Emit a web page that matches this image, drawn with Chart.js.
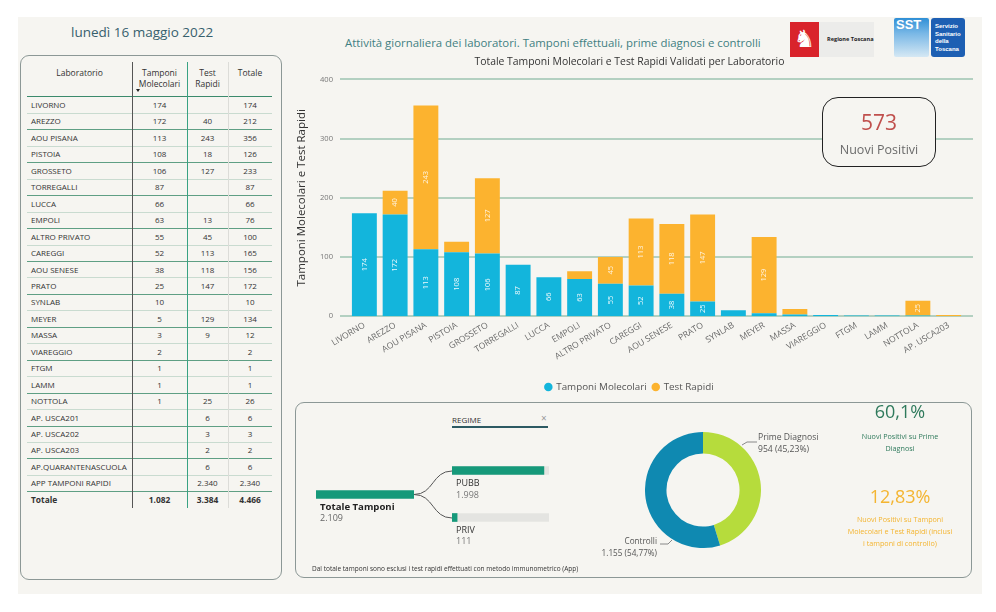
<!DOCTYPE html>
<html lang="it">
<head>
<meta charset="utf-8">
<title>Attività giornaliera dei laboratori</title>
<script src="https://cdn.jsdelivr.net/npm/chart.js@4.4.1/dist/chart.umd.min.js"></script>
<style>
  html,body{margin:0;padding:0;background:#ffffff;}
  body{width:996px;height:612px;position:relative;overflow:hidden;font-family:"Open Sans","Noto Sans",sans-serif;color:#333;}
  .abs{position:absolute;}
  #dash{left:18px;top:17px;width:964px;height:577px;background:#f6f5f1;}
  .panel{border:1px solid #8c9896;border-radius:9px;box-sizing:border-box;}
  .hdr{position:absolute;font-size:8.5px;color:#333;text-align:center;line-height:11px;}
  .cell{position:absolute;font-size:8px;color:#333;line-height:16px;white-space:nowrap;}
  .num{text-align:center;}
  .hl{position:absolute;left:27px;width:245px;height:1px;}
  .vl{position:absolute;top:62px;height:446px;width:1px;}
  .tt{position:absolute;white-space:nowrap;}
</style>
</head>
<body>
<div id="dash" class="abs"></div>

<!-- header texts -->
<div class="tt" style="left:71px;top:23px;font-size:13.5px;color:#37606d;">lunedì 16 maggio 2022</div>
<div class="tt" style="left:345px;top:35px;font-size:11.4px;color:#3f7f82;">Attività giornaliera dei laboratori. Tamponi effettuali, prime diagnosi e controlli</div>

<!-- logos -->
<div class="abs" style="left:790px;top:22px;width:84px;height:35px;background:#ececea;"></div>
<div class="abs" style="left:790px;top:22px;width:29px;height:35px;background:#d9232b;color:#fff;font-size:24px;line-height:35px;text-align:center;font-family:'DejaVu Sans';">♞</div>
<div class="tt" style="left:827px;top:35px;font-size:5.6px;font-weight:bold;color:#222;">Regione Toscana</div>
<div class="abs" style="left:894px;top:18px;width:35px;height:39px;background:linear-gradient(180deg,#2f8fd6 0%,#7ab8e6 40%,#d5e8f4 100%);border-radius:2px;"></div>
<div class="tt" style="left:896px;top:17px;font-size:13px;font-weight:bold;color:#fff;font-family:'Liberation Sans Narrow','Liberation Sans';">SST</div>
<div class="abs" style="left:931px;top:18px;width:34px;height:39px;background:#1d5fb3;border-radius:3px;"></div>
<div class="tt" style="left:935px;top:23px;font-size:6px;font-weight:bold;color:#fff;line-height:7.6px;font-family:'Liberation Sans';">Servizio<br>Sanitario<br>della<br>Toscana</div>

<!-- table panel -->
<div class="abs panel" style="left:20px;top:55px;width:262px;height:525px;"></div>
<div id="table"></div>

<!-- main chart -->
<canvas id="main" class="abs" width="685" height="350" style="left:295px;top:52px;"></canvas>

<!-- KPI box -->
<div class="abs" style="left:822px;top:97px;width:114px;height:70px;border:1px solid #222;border-radius:16px;box-sizing:border-box;background:#f6f5f1;"></div>
<div class="tt" id="kpiNew" style="left:822px;width:114px;text-align:center;top:108px;font-size:21px;color:#c0504d;"></div>
<div class="tt" style="left:822px;width:114px;text-align:center;top:141px;font-size:12.5px;color:#6b6b6b;">Nuovi Positivi</div>

<!-- bottom panel -->
<div class="abs panel" style="left:295px;top:402px;width:677px;height:176px;"></div>

<!-- decomposition tree -->
<div class="tt" style="left:452px;top:414px;font-size:8px;color:#333;">REGIME</div>
<div class="tt" style="left:541px;top:411px;font-size:10px;color:#999;">×</div>
<div class="abs" style="left:452px;top:426px;width:96px;height:2px;background:#2d5a63;"></div>
<svg class="abs" style="left:0;top:0;" width="996" height="612">
  <path d="M414 494.5 C 434 494.5, 432 471, 452 471" fill="none" stroke="#555" stroke-width="1"/>
  <path d="M414 494.5 C 434 494.5, 432 518, 452 518" fill="none" stroke="#555" stroke-width="1"/>
  <polyline points="742,445 747,442 757,442" fill="none" stroke="#888" stroke-width="1"/>
  <polyline points="660,544 668,544 672,540" fill="none" stroke="#888" stroke-width="1"/>
</svg>
<canvas id="treeTot" class="abs" width="98" height="9" style="left:316px;top:490px;"></canvas>
<canvas id="treeSub" class="abs" width="97" height="94" style="left:452px;top:447px;"></canvas>
<div class="tt" id="totLbl" style="left:320px;top:500px;font-size:9.6px;font-weight:bold;color:#222;">Totale Tamponi</div>
<div class="tt" id="totVal" style="left:320px;top:511px;font-size:9px;color:#666;"></div>
<div class="tt" id="pubLbl" style="left:456px;top:476px;font-size:9px;color:#333;"></div>
<div class="tt" id="pubVal" style="left:456px;top:488px;font-size:9px;color:#777;"></div>
<div class="tt" id="prvLbl" style="left:456px;top:523px;font-size:9px;color:#333;"></div>
<div class="tt" id="prvVal" style="left:456px;top:534px;font-size:9px;color:#777;"></div>
<div class="tt" style="left:312px;top:564px;font-size:6.5px;color:#333;">Dal totale tamponi sono esclusi i test rapidi effettuati con metodo immunometrico (App)</div>

<!-- donut -->
<canvas id="donut" class="abs" width="116" height="116" style="left:645px;top:432px;"></canvas>
<div class="tt" id="dl1" style="left:758px;top:431px;font-size:8.6px;color:#555;line-height:12px;"></div>
<div class="tt" id="dl2" style="left:557px;top:535px;width:100px;text-align:right;font-size:8.2px;color:#555;line-height:12px;"></div>

<!-- KPIs right -->
<div class="tt" id="kpi1" style="left:840px;width:120px;text-align:center;top:399px;font-size:18px;color:#2f7a5c;"></div>
<div class="tt" style="left:840px;width:120px;text-align:center;top:431px;font-size:7.2px;color:#2f7a5c;line-height:11.5px;">Nuovi Positivi su Prime<br>Diagnosi</div>
<div class="tt" id="kpi2" style="left:840px;width:120px;text-align:center;top:484px;font-size:18px;color:#f4b531;"></div>
<div class="tt" style="left:836px;width:128px;text-align:center;top:513px;font-size:7.2px;color:#f4b531;line-height:12px;">Nuovi Positivi su Tamponi<br>Molecolari e Test Rapidi (inclusi<br>i tamponi di controllo)</div>

<script>
// ---------------- DATA ----------------
const tableLabs = ["LIVORNO","AREZZO","AOU PISANA","PISTOIA","GROSSETO","TORREGALLI","LUCCA","EMPOLI","ALTRO PRIVATO","CAREGGI","AOU SENESE","PRATO","SYNLAB","MEYER","MASSA","VIAREGGIO","FTGM","LAMM","NOTTOLA","AP. USCA201","AP. USCA202","AP. USCA203","AP.QUARANTENASCUOLA","APP TAMPONI RAPIDI"];
const tableMol  = [174,172,113,108,106,87,66,63,55,52,38,25,10,5,3,2,1,1,1,null,null,null,null,null];
const tableRap  = [null,40,243,18,127,null,null,13,45,113,118,147,null,129,9,null,null,null,25,6,3,2,6,2340];

const chartLabs = ["LIVORNO","AREZZO","AOU PISANA","PISTOIA","GROSSETO","TORREGALLI","LUCCA","EMPOLI","ALTRO PRIVATO","CAREGGI","AOU SENESE","PRATO","SYNLAB","MEYER","MASSA","VIAREGGIO","FTGM","LAMM","NOTTOLA","AP. USCA203"];
const chartMol  = [174,172,113,108,106,87,66,63,55,52,38,25,10,5,3,2,1,1,1,null];
const chartRap  = [null,40,243,18,127,null,null,13,45,113,118,147,null,129,9,null,null,null,25,2];
const yTicks    = [0,100,200,300,400];

const nuoviPositivi = 573;
const regimeLabels = ["PUBB","PRIV"];
const regimeValues = [1998,111];
const totaleTamponi = 2109;
const donutLabels = ["Prime Diagnosi","Controlli"];
const donutValues = [954,1155];
const kpiPrime = "60,1%";
const kpiTotal = "12,83%";

// ---------------- helpers ----------------
const fmtIt = v => { const s = String(v); return s.replace(/\B(?=(\d{3})+(?!\d))/g, "."); };

// ---------------- TABLE ----------------
(function buildTable(){
  const t = document.getElementById('table');
  let h = '';
  h += `<div class="hdr" style="left:27px;top:67px;width:105px;">Laboratorio</div>`;
  h += `<div class="hdr" style="left:132px;top:67px;width:55px;">Tamponi<br>Molecolari</div>`;
  h += `<div class="abs" style="left:136px;top:89px;width:0;height:0;border-left:2.5px solid transparent;border-right:2.5px solid transparent;border-top:3px solid #222;"></div>`;
  h += `<div class="hdr" style="left:187px;top:67px;width:41px;">Test<br>Rapidi</div>`;
  h += `<div class="hdr" style="left:228px;top:67px;width:44px;">Totale</div>`;
  h += `<div class="hl" style="top:96px;background:#3b8a6c;"></div>`;
  const rh = 16.45, y0 = 97;
  let sMol=0, sRap=0;
  tableLabs.forEach((lab,i)=>{
    const top = y0 + i*rh;
    const m = tableMol[i], r = tableRap[i];
    sMol += m||0; sRap += r||0;
    const tot = (m||0)+(r||0);
    h += `<div class="cell" style="left:31px;top:${top}px;">${lab}</div>`;
    h += `<div class="cell num" style="left:132px;width:55px;top:${top}px;">${m===null?'':fmtIt(m)}</div>`;
    h += `<div class="cell num" style="left:187px;width:41px;top:${top}px;">${r===null?'':fmtIt(r)}</div>`;
    h += `<div class="cell num" style="left:228px;width:44px;top:${top}px;">${fmtIt(tot)}</div>`;
    const col = (i%2===0) ? '#c9dbd0' : '#5f9f84';
    h += `<div class="hl" style="top:${(top+rh-0.5).toFixed(1)}px;background:${col};"></div>`;
  });
  const top = y0 + tableLabs.length*rh;
  h += `<div class="cell" style="left:31px;top:${top}px;font-weight:bold;font-size:8.4px;">Totale</div>`;
  h += `<div class="cell num" style="left:132px;width:55px;top:${top}px;font-weight:bold;font-size:8.4px;">${fmtIt(sMol)}</div>`;
  h += `<div class="cell num" style="left:187px;width:41px;top:${top}px;font-weight:bold;font-size:8.4px;">${fmtIt(sRap)}</div>`;
  h += `<div class="cell num" style="left:228px;width:44px;top:${top}px;font-weight:bold;font-size:8.4px;">${fmtIt(sMol+sRap)}</div>`;
  h += `<div class="vl" style="left:132px;background:#555;"></div>`;
  h += `<div class="vl" style="left:187px;background:#39a283;"></div>`;
  h += `<div class="vl" style="left:228px;background:#dcdcd8;"></div>`;
  t.innerHTML = h;
})();

// ---------------- TEXT FIELDS ----------------
document.getElementById('kpiNew').textContent = fmtIt(nuoviPositivi);
document.getElementById('totVal').textContent = fmtIt(totaleTamponi);
document.getElementById('pubLbl').textContent = regimeLabels[0];
document.getElementById('pubVal').textContent = fmtIt(regimeValues[0]);
document.getElementById('prvLbl').textContent = regimeLabels[1];
document.getElementById('prvVal').textContent = fmtIt(regimeValues[1]);
const dTot = donutValues[0]+donutValues[1];
const pct = v => (v/dTot*100).toFixed(2).replace('.',',') + '%';
document.getElementById('dl1').innerHTML = `${donutLabels[0]}<br>${fmtIt(donutValues[0])} (${pct(donutValues[0])})`;
document.getElementById('dl2').innerHTML = `${donutLabels[1]}<br>${fmtIt(donutValues[1])} (${pct(donutValues[1])})`;
document.getElementById('kpi1').textContent = kpiPrime;
document.getElementById('kpi2').textContent = kpiTotal;

// ---------------- MAIN CHART ----------------
Chart.defaults.font.family = "'Open Sans','Noto Sans',sans-serif";

const extGrid = {
  id:'extGrid',
  beforeDatasetsDraw(c){
    const y = c.scales.y, a = c.chartArea, ctx = c.ctx;
    ctx.save();
    ctx.strokeStyle = '#b3d0c1';
    ctx.lineWidth = 2;
    y.ticks.forEach(t=>{
      const py = Math.round(y.getPixelForValue(t.value));
      ctx.beginPath(); ctx.moveTo(a.left-9, py); ctx.lineTo(a.right+9, py); ctx.stroke();
    });
    ctx.restore();
  }
};
const barLabels = {
  id:'barLabels',
  afterDatasetsDraw(c){
    const ctx = c.ctx;
    ctx.save();
    ctx.font = "7.5px 'Open Sans'";
    ctx.textAlign = 'center';
    ctx.textBaseline = 'middle';
    c.data.datasets.forEach((ds,i)=>{
      const meta = c.getDatasetMeta(i);
      meta.data.forEach((bar,j)=>{
        const v = ds.data[j];
        if (v===null || v < 25) return;
        const p = bar.getProps(['x','y','base'], true);
        ctx.save();
        ctx.translate(p.x, (p.y+p.base)/2);
        ctx.rotate(-Math.PI/2);
        ctx.fillStyle = i===0 ? 'rgba(255,255,255,0.92)' : 'rgba(255,255,255,0.85)';
        ctx.fillText(String(v), 0, 0);
        ctx.restore();
      });
    });
    ctx.restore();
  }
};

new Chart(document.getElementById('main'), {
  type:'bar',
  data:{
    labels: chartLabs,
    datasets:[
      {label:'Tamponi Molecolari', data: chartMol, backgroundColor:'#13b5dc', barPercentage:0.81, categoryPercentage:1},
      {label:'Test Rapidi', data: chartRap, backgroundColor:'#fcb32f', barPercentage:0.81, categoryPercentage:1}
    ]
  },
  options:{
    responsive:false, animation:false, devicePixelRatio:1,
    layout:{padding:{left:0,right:16,top:0,bottom:0}},
    plugins:{
      title:{display:true, text:'Totale Tamponi Molecolari e Test Rapidi Validati per Laboratorio', color:'#333', font:{size:10.4, weight:'normal'}, padding:{top:4,bottom:11}},
      legend:{position:'bottom', labels:{usePointStyle:true, pointStyle:'circle', boxWidth:6, boxHeight:6, color:'#555', font:{size:9.8}, padding:6}},
      tooltip:{enabled:false}
    },
    scales:{
      x:{stacked:true, grid:{display:false, drawTicks:false}, border:{display:false},
         ticks:{autoSkip:false, minRotation:31, maxRotation:31, color:'#666', font:{size:8.6}, padding:4},
         afterFit(s){ s.height = 60; }},
      y:{stacked:true, min:0, max:400, afterBuildTicks(s){ s.ticks = yTicks.map(v=>({value:v})); },
         grid:{display:false, drawTicks:false}, border:{display:false},
         ticks:{color:'#777', font:{size:7.6}, padding:16},
         title:{display:true, text:'Tamponi Molecolari e Test Rapidi', color:'#333', font:{size:11.5}, padding:{top:0,bottom:0}},
         afterFit(s){ s.width = 54; }}
    }
  },
  plugins:[extGrid, barLabels]
});

// ---------------- DECOMPOSITION TREE ----------------
const miniOpts = (max)=>({
  indexAxis:'y', responsive:false, animation:false, devicePixelRatio:1,
  layout:{padding:0},
  plugins:{legend:{display:false}, tooltip:{enabled:false}, title:{display:false}},
  scales:{x:{display:false, min:0, max:max}, y:{display:false}}
});
new Chart(document.getElementById('treeTot'), {
  type:'bar',
  data:{labels:['Totale Tamponi'], datasets:[{data:[totaleTamponi], backgroundColor:'#16997a', barThickness:8, categoryPercentage:1, barPercentage:1}]},
  options: miniOpts(totaleTamponi)
});
new Chart(document.getElementById('treeSub'), {
  type:'bar',
  data:{labels: regimeLabels, datasets:[
    {data: regimeValues, backgroundColor:'#16997a', barThickness:8, grouped:false, order:0},
    {data: regimeLabels.map(()=>totaleTamponi), backgroundColor:'#e4e4e1', barThickness:8, grouped:false, order:1}
  ]},
  options: miniOpts(totaleTamponi)
});

// ---------------- DONUT ----------------
new Chart(document.getElementById('donut'), {
  type:'doughnut',
  data:{labels: donutLabels, datasets:[{data: donutValues, backgroundColor:['#b6dc3c','#0f89b1'], borderWidth:0}]},
  options:{responsive:false, animation:false, devicePixelRatio:1, cutout:'63%', layout:{padding:0},
    plugins:{legend:{display:false}, tooltip:{enabled:false}}}
});
</script>
</body>
</html>
